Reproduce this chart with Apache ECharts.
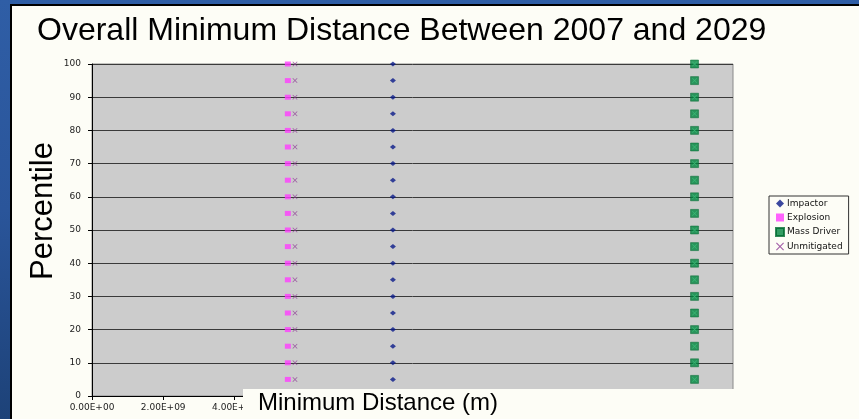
<!DOCTYPE html>
<html>
<head>
<meta charset="utf-8">
<script src="https://cdn.jsdelivr.net/npm/echarts@6/dist/echarts.min.js"></script>
<style>
  html, body { margin: 0; padding: 0; width: 859px; height: 419px; overflow: hidden; }
  body { background: linear-gradient(180deg, #2f5ea6 0%, #2a559a 50%, #1d4278 100%); position: relative; }
  #frame { position: absolute; left: 10px; top: 4px; right: 0; bottom: 0; border-left: 2px solid #000; border-top: 2px solid #000; background: #fdfdf6; }
  #chart { position: absolute; left: 0; top: 0; width: 859px; height: 419px; }
</style>
</head>
<body>
<div id="frame"></div>
<div id="chart"></div>
<script>
// Percentile levels (y values)
const percentiles = [5, 10, 15, 20, 25, 30, 35, 40, 45, 50, 55, 60, 65, 70, 75, 80, 85, 90, 95, 100];
// Minimum distance (m) per percentile, per mitigation approach
const impactor    = [8.45e9, 8.45e9, 8.45e9, 8.45e9, 8.45e9, 8.45e9, 8.45e9, 8.45e9, 8.45e9, 8.45e9, 8.45e9, 8.45e9, 8.45e9, 8.45e9, 8.45e9, 8.45e9, 8.45e9, 8.45e9, 8.45e9, 8.45e9];
const explosion   = [5.5e9, 5.5e9, 5.5e9, 5.5e9, 5.5e9, 5.5e9, 5.5e9, 5.5e9, 5.5e9, 5.5e9, 5.5e9, 5.5e9, 5.5e9, 5.5e9, 5.5e9, 5.5e9, 5.5e9, 5.5e9, 5.5e9, 5.5e9];
const massDriver  = [1.692e10, 1.692e10, 1.692e10, 1.692e10, 1.692e10, 1.692e10, 1.692e10, 1.692e10, 1.692e10, 1.692e10, 1.692e10, 1.692e10, 1.692e10, 1.692e10, 1.692e10, 1.692e10, 1.692e10, 1.692e10, 1.692e10, 1.692e10];
const unmitigated = [5.7e9, 5.7e9, 5.7e9, 5.7e9, 5.7e9, 5.7e9, 5.7e9, 5.7e9, 5.7e9, 5.7e9, 5.7e9, 5.7e9, 5.7e9, 5.7e9, 5.7e9, 5.7e9, 5.7e9, 5.7e9, 5.7e9, 5.7e9];
const seriesNames = ['Impactor', 'Explosion', 'Mass Driver', 'Unmitigated'];
const titleText = 'Overall Minimum Distance Between 2007 and 2029';
const xTitle = 'Minimum Distance (m)';
const yTitle = 'Percentile';

function pairs(xs) { return xs.map((x, i) => [x, percentiles[i]]); }
function sci(v) {
  if (v === 0) return '0.00E+00';
  const e = Math.floor(Math.log10(v) + 1e-9);
  const m = v / Math.pow(10, e);
  return m.toFixed(2) + 'E+' + (e < 10 ? '0' + e : '' + e);
}
const xPath = 'path://M0,1L1,0L5,4L9,0L10,1L6,5L10,9L9,10L5,6L1,10L0,9L4,5Z';

const chart = echarts.init(document.getElementById('chart'), null, { renderer: 'canvas' });
chart.setOption({
  animation: false,
  backgroundColor: 'transparent',
  grid: { left: 92, right: 126, top: 64, bottom: 23, show: true, backgroundColor: '#cccccc', borderColor: '#8a8a8a', borderWidth: 1 },
  xAxis: {
    type: 'value', min: 0, max: 1.8e10, interval: 2e9,
    axisLine: { show: true, onZero: false, lineStyle: { color: '#000', width: 1 } },
    axisTick: { show: true, length: 4, lineStyle: { color: '#000' } },
    axisLabel: { formatter: sci, fontFamily: 'DejaVu Sans', fontSize: 9, color: '#222', margin: 7, showMaxLabel: true },
    splitLine: { show: false }
  },
  yAxis: {
    type: 'value', min: 0, max: 100, interval: 10,
    axisLine: { show: true, lineStyle: { color: '#000', width: 1 } },
    axisTick: { show: true, length: 4, lineStyle: { color: '#000' } },
    axisLabel: { fontFamily: 'DejaVu Sans', fontSize: 9, color: '#222', margin: 11 },
    splitLine: { show: true, lineStyle: { color: '#3a3a3a', width: 1 } }
  },
  legend: {
    orient: 'vertical', left: 769, top: 196,
    data: seriesNames,
    itemWidth: 8, itemHeight: 8, itemGap: 5,
    padding: [3, 6, 3, 6],
    borderColor: '#333', borderWidth: 1, backgroundColor: '#fdfdf6',
    textStyle: { fontFamily: 'DejaVu Sans', fontSize: 9, color: '#111', padding: [0, 0, 0, -2] }
  },
  series: [
    { name: seriesNames[0], type: 'scatter', data: pairs(impactor), symbol: 'diamond', symbolSize: [6, 5], itemStyle: { color: '#0a1a8a' }, z: 3 },
    { name: seriesNames[1], type: 'scatter', data: pairs(explosion), symbol: 'rect', symbolSize: [6, 5], itemStyle: { color: '#ff3cff' }, z: 3 },
    { name: seriesNames[2], type: 'scatter', data: pairs(massDriver), symbol: 'rect', symbolSize: [8, 8], itemStyle: { color: '#00843e', borderColor: '#006a30', borderWidth: 0.6 }, z: 3 },
    { name: 'massDriverMark', type: 'scatter', data: pairs(massDriver), symbol: xPath, symbolSize: [5, 5], itemStyle: { color: '#3fc07a' }, z: 4, silent: true },
    { name: seriesNames[3], type: 'scatter', data: pairs(unmitigated), symbol: xPath, symbolSize: [5, 5], itemStyle: { color: '#8e3a96' }, z: 3 }
  ],
  graphic: [
    { type: 'text', left: 37, top: 15, z: 10, style: { text: titleText, fontFamily: 'Liberation Sans', fontSize: 32, fill: '#000' } },
    { type: 'text', x: 43, y: 211, rotation: Math.PI / 2, z: 10,
      style: { text: yTitle, fontFamily: 'Liberation Sans', fontSize: 31, fill: '#000', align: 'center', verticalAlign: 'middle' } },
    { type: 'rect', shape: { x: 243, y: 389, width: 616, height: 30 }, z: 20, style: { fill: '#fdfdf6' } },
    { type: 'text', left: 258, top: 391, z: 21, style: { text: xTitle, fontFamily: 'Liberation Sans', fontSize: 24, fill: '#000' } }
  ]
});
</script>
</body>
</html>
